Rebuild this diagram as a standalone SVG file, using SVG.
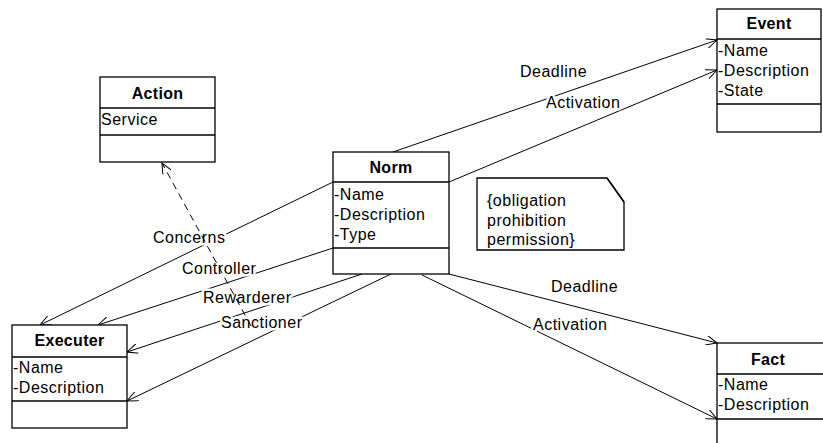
<svg xmlns="http://www.w3.org/2000/svg" width="823" height="443" viewBox="0 0 823 443">
<defs>
<marker id="open" viewBox="0 0 12 10" refX="11" refY="5" markerWidth="12" markerHeight="10" markerUnits="userSpaceOnUse" orient="auto">
<path d="M0,0 L11,5 L0,10" fill="none" stroke="#000" stroke-width="1"/>
</marker>
<style>
.box{fill:#fff;stroke:#000;stroke-width:1.3}
.div{stroke:#000;stroke-width:1.3}
.t{font-family:"Liberation Sans",Arial,sans-serif;font-size:16px;letter-spacing:0.5px;fill:#000}
.h{font-family:"Liberation Sans",Arial,sans-serif;font-size:16px;font-weight:bold;letter-spacing:0.3px;fill:#000;text-anchor:middle}
.ln{fill:none;stroke:#000;stroke-width:1}
.lbl{font-family:"Liberation Sans",Arial,sans-serif;font-size:16px;letter-spacing:0.5px;fill:#000;stroke:#fff;stroke-width:5;stroke-linejoin:round;paint-order:stroke}
</style>
</defs>
<rect width="823" height="443" fill="#fff"/>
<g id="connectors">
<line class="ln" x1="393" y1="152" x2="717" y2="40" marker-end="url(#open)"/>
<line class="ln" x1="449" y1="182" x2="717" y2="70" marker-end="url(#open)"/>
<line class="ln" x1="449" y1="274" x2="717" y2="343" marker-end="url(#open)"/>
<line class="ln" x1="422" y1="275" x2="717" y2="419" marker-end="url(#open)"/>
<line class="ln" x1="333" y1="182" x2="40" y2="325" marker-end="url(#open)"/>
<line class="ln" x1="333" y1="248" x2="98" y2="325" marker-end="url(#open)"/>
<line class="ln" x1="362" y1="274" x2="127" y2="352" marker-end="url(#open)"/>
<line class="ln" x1="391" y1="274" x2="127" y2="401" marker-end="url(#open)"/>
<text class="lbl" x="520" y="77">Deadline</text>
<text class="lbl" x="546" y="108">Activation</text>
<text class="lbl" x="551" y="292">Deadline</text>
<text class="lbl" x="533" y="330">Activation</text>
<text class="lbl" x="153" y="243">Concerns</text>
<text class="lbl" x="182" y="274">Controller</text>
<text class="lbl" x="203" y="303">Rewarderer</text>
<text class="lbl" x="221" y="328">Sanctioner</text>
<line class="ln" x1="251" y1="326" x2="162" y2="163" stroke-dasharray="7,5" marker-end="url(#open)"/>
</g>
<g id="action">
<rect class="box" x="100" y="77" width="115" height="85"/>
<line class="div" x1="100" y1="108" x2="215" y2="108"/>
<line class="div" x1="100" y1="135" x2="215" y2="135"/>
<text class="h" x="157.5" y="99">Action</text>
<text class="t" x="101" y="125">Service</text>
</g>
<g id="norm">
<rect class="box" x="333" y="152" width="116" height="122"/>
<line class="div" x1="333" y1="182" x2="449" y2="182"/>
<line class="div" x1="333" y1="248" x2="449" y2="248"/>
<text class="h" x="391" y="173">Norm</text>
<text class="t" x="334" y="200">-Name</text>
<text class="t" x="334" y="220">-Description</text>
<text class="t" x="334" y="240">-Type</text>
</g>
<g id="event">
<rect class="box" x="717" y="9" width="104" height="123"/>
<line class="div" x1="717" y1="39" x2="821" y2="39"/>
<line class="div" x1="717" y1="104" x2="821" y2="104"/>
<text class="h" x="769" y="29">Event</text>
<text class="t" x="718" y="56">-Name</text>
<text class="t" x="718" y="76">-Description</text>
<text class="t" x="718" y="96">-State</text>
</g>
<g id="executer">
<rect class="box" x="12" y="325" width="115" height="103"/>
<line class="div" x1="12" y1="357" x2="127" y2="357"/>
<line class="div" x1="12" y1="401" x2="127" y2="401"/>
<text class="h" x="69.5" y="346">Executer</text>
<text class="t" x="13" y="373">-Name</text>
<text class="t" x="13" y="393">-Description</text>
</g>
<g id="fact">
<rect class="box" x="717" y="343" width="112" height="110"/>
<line class="div" x1="717" y1="374" x2="829" y2="374"/>
<line class="div" x1="717" y1="419" x2="829" y2="419"/>
<text class="h" x="768" y="365">Fact</text>
<text class="t" x="718" y="390">-Name</text>
<text class="t" x="718" y="410">-Description</text>
</g>
<g id="note">
<path class="box" d="M477,178 L607,178 L624,202 L624,250 L477,250 Z"/>
<line class="div" x1="607" y1="178" x2="624" y2="202"/>
<text class="t" x="487" y="206">{obligation</text>
<text class="t" x="487" y="226">prohibition</text>
<text class="t" x="487" y="245">permission}</text>
</g>
</svg>
